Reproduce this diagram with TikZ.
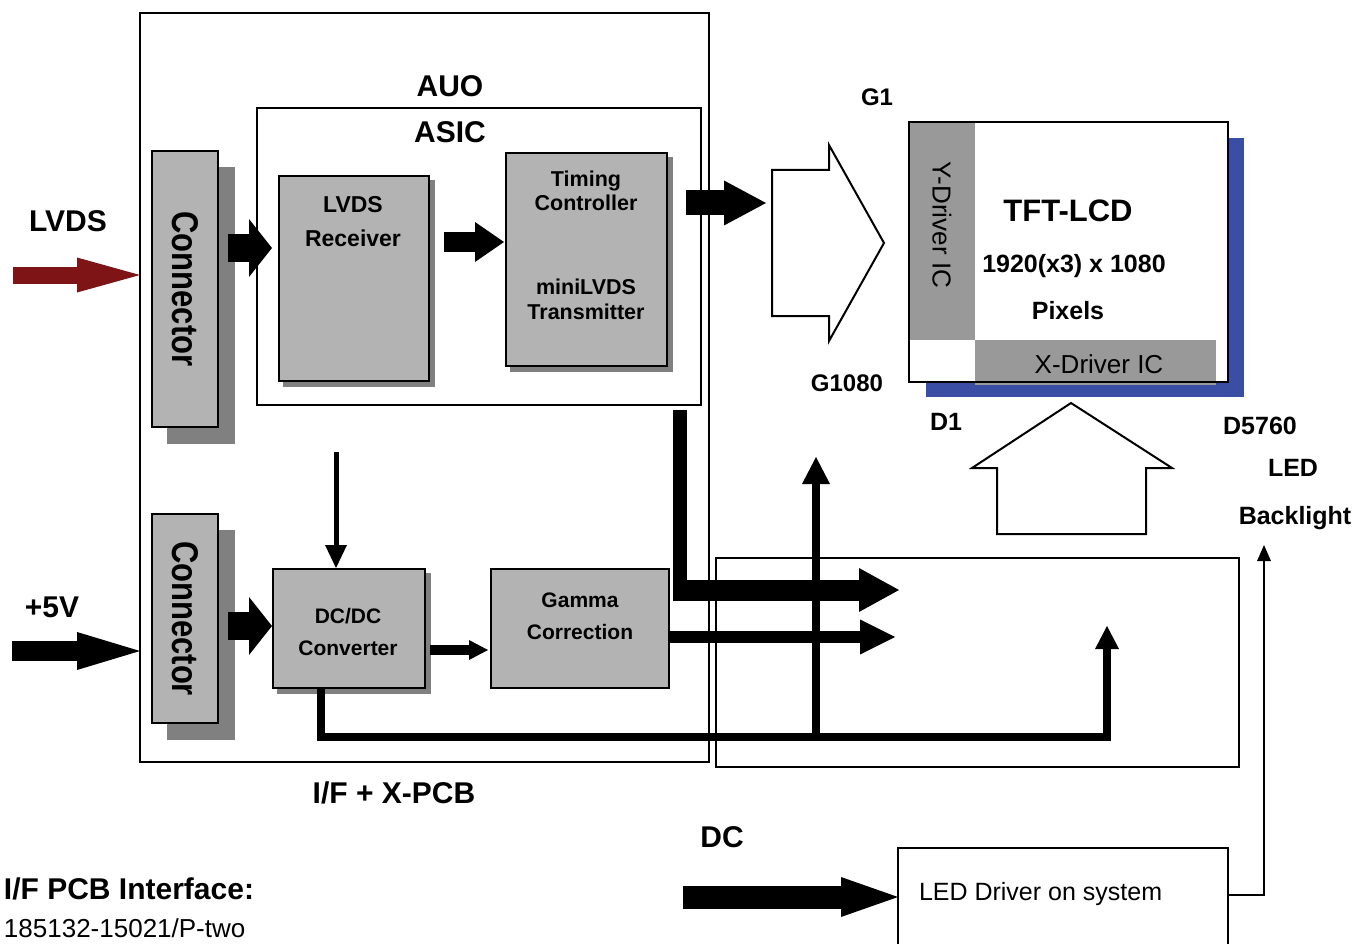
\documentclass[tikz,border=0pt]{standalone}
\usepackage{fontspec}
\setmainfont{Liberation Sans}
\usetikzlibrary{arrows.meta}
\definecolor{boxgray}{HTML}{B3B3B3}
\definecolor{shadowgray}{HTML}{808080}
\definecolor{drvgray}{HTML}{999999}
\definecolor{lcdblue}{HTML}{3A4FA3}
\definecolor{lvdsred}{HTML}{7F1416}
\begin{document}
\begin{tikzpicture}[x=1pt,y=-1pt,
 every node/.style={inner sep=0pt, outer sep=0pt},
 frame/.style={draw=black, line width=1.5pt},
 blk/.style={draw=black, line width=2.5pt, fill=boxgray},
 shadebox/.style={fill=shadowgray},
 fb/.style={font=\bfseries\fontsize{#1}{#1}\selectfont},
 fr/.style={font=\fontsize{#1}{#1}\selectfont},
 fat/.style n args={3}{line width=#1, -{Triangle[length=#2,width=#3,line width=0pt]}},
 hollow/.style={draw=black, line width=2pt, fill=white, line join=miter},
]
\useasboundingbox (0,0) rectangle (1357,944);
\clip (0,0) rectangle (1357,944);

% ---------- frames ----------
\node[frame, minimum width=569pt, minimum height=749pt] (pcb) at (424.5,387.5) {};
\node[frame, line width=2.5pt, minimum width=444pt, minimum height=297pt] (asic) at (479,256.5) {};
\node[frame, minimum width=523pt, minimum height=209pt] (lowbox) at (977.5,662.5) {};
\node[frame, fill=white, minimum width=330pt, minimum height=120pt] (leddrv) at (1063,908) {};

% ---------- shadows ----------
\node[shadebox, minimum width=68pt, minimum height=276pt] (conn1s) at (201,305.5) {};
\node[shadebox, minimum width=68pt, minimum height=210pt] (conn2s) at (201,634.5) {};
\node[shadebox, minimum width=152pt, minimum height=207pt] (lvdsrxs) at (359,283.5) {};
\node[shadebox, minimum width=163pt, minimum height=215pt] (timings) at (591.5,264.5) {};
\node[shadebox, minimum width=154pt, minimum height=121pt] (dcdcs) at (354,633.5) {};

% ---------- blocks ----------
\node[blk, minimum width=66pt, minimum height=276pt] (conn1) at (185,289) {};
\node[fb=31, rotate=-90] (conn1t) at (conn1) {\scalebox{1}[1.2]{Connector}};
\node[blk, minimum width=66pt, minimum height=209pt] (conn2) at (185,618.5) {};
\node[fb=31, rotate=-90] (conn2t) at (conn2) {\scalebox{1}[1.2]{Connector}};

\node[blk, minimum width=150pt, minimum height=205pt] (lvdsrx) at (354,278.5) {};
\node[fb=23, anchor=base] (lvdsrxa) at (353,213) {LVDS};
\node[fb=23, anchor=base] (lvdsrxb) at (353,246) {Receiver};

\node[blk, minimum width=161pt, minimum height=213pt] (timing) at (586.5,259.5) {};
\node[fb=21.5, anchor=base] (timinga) at (586,187) {Timing};
\node[fb=21.5, anchor=base] (timingb) at (586,211) {Controller};
\node[fb=21.5, anchor=base] (timingc) at (586,294) {miniLVDS};
\node[fb=21.5, anchor=base] (timingd) at (586,319) {Transmitter};

\node[blk, minimum width=152pt, minimum height=119pt] (dcdc) at (349,628.5) {};
\node[fb=21, anchor=base] (dcdca) at (348,623) {DC/DC};
\node[fb=21, anchor=base] (dcdcb) at (348,655) {Converter};

\node[blk, minimum width=178pt, minimum height=119pt] (gamma) at (580,628.5) {};
\node[fb=21, anchor=base] (gammaa) at (580,607) {Gamma};
\node[fb=21, anchor=base] (gammab) at (580,639) {Correction};

% ---------- TFT-LCD ----------
\node[fill=lcdblue, minimum width=318pt, minimum height=259pt] (lcdsh) at (1085,267.5) {};
\node[draw=black, line width=2.5pt, fill=white, minimum width=319pt, minimum height=260pt] (lcd) at (1068.5,252) {};
\node[fill=drvgray, minimum width=66pt, minimum height=218pt] (ydrv) at (942,231) {};
\node[fr=26, rotate=-90] (ydrvt) at (942,225) {Y-Driver IC};
\node[fill=drvgray, minimum width=241pt, minimum height=44pt] (xdrv) at (1095.5,362) {};
\node[fr=26, anchor=base] (xdrvt) at (1099,373) {X-Driver IC};
\draw[line width=2.5pt] (lcd.south west) rectangle (lcd.north east);
\fill[drvgray] ([yshift=1.5pt]xdrv.south west) rectangle ([yshift=-1pt]xdrv.south east);
\node[fb=31, anchor=base] (tft) at (1068,222) {TFT-LCD};
\node[fb=25, anchor=base] (res) at (1074,272) {1920(x3) x 1080};
\node[fb=25, anchor=base] (pix) at (1068,319) {Pixels};

% ---------- hollow arrows ----------
\draw[hollow] (772,170) -- (829,170) -- (829,145) -- (884,243) -- (829,341) -- (829,316) -- (772,316) -- cycle;
\coordinate (garrow) at (772,243);
\draw[hollow] (1071,403) -- (1172,468) -- (1146,468) -- (1146,534) -- (997,534) -- (997,468) -- (972,468) -- cycle;

% ---------- connectors ----------
\coordinate (lvdsin) at (13,275);
\draw[line width=17pt, lvdsred, -{Triangle[length=63pt,width=35pt,line width=0pt]}] (lvdsin) -- (lvdsin -| pcb.west);
\coordinate (pwrin) at (12,651);
\draw[fat={20pt}{63pt}{38pt}] (pwrin) -- (pwrin -| pcb.west);

\draw[fat={28pt}{23pt}{58pt}] ([xshift=10pt,yshift=41pt]conn1.east) -- ([xshift=-7pt,yshift=30.5pt]lvdsrx.west);
\draw[fat={28pt}{23pt}{58pt}] ([xshift=10pt,yshift=-7.5pt]conn2.east) -- ([xshift=-1pt,yshift=2.5pt]dcdc.west);
\draw[fat={20pt}{29pt}{40pt}] ([xshift=15pt,yshift=36.5pt]lvdsrx.east) -- ([xshift=-2pt,yshift=17.5pt]timing.west);
\draw[fat={25pt}{42pt}{45pt}] ([xshift=19pt,yshift=56.5pt]timing.east) -- ([xshift=-6pt,yshift=40pt]garrow);

\draw[line width=14pt] ([xshift=-21pt,yshift=-5pt]asic.south east) -- ([xshift=-36pt,yshift=-42pt]lowbox.north west);
\draw[fat={21pt}{40pt}{44pt}] ([xshift=-43pt,yshift=-32pt]lowbox.north west) -- ([xshift=183pt,yshift=-32pt]lowbox.north west);
\draw[fat={12pt}{35pt}{35pt}] ([xshift=1pt,yshift=-8.5pt]gamma.east) -- ([xshift=179pt,yshift=-79pt]lowbox.north west);

\draw[line width=5pt, -{Triangle[length=23pt,width=22pt,line width=0pt]}] ([xshift=-13pt,yshift=117pt]dcdc.north) -- ([xshift=-13pt,yshift=1pt]dcdc.north);
\draw[fat={10pt}{19pt}{20pt}] ([xshift=5pt,yshift=-21.5pt]dcdc.east) -- ([xshift=-3pt,yshift=-21.5pt]gamma.west);

\coordinate (tipB) at ([xshift=100pt,yshift=101pt]lowbox.north west);
\draw[line width=8pt, line join=miter, -{Triangle[length=23pt,width=24pt,line width=0pt]}] ([xshift=-28pt]dcdc.south) -- ++(0,49) coordinate (dcbus) -| ([xshift=391pt,yshift=-68pt]lowbox.north west);
\draw[line width=8pt, -{Triangle[length=27pt,width=28pt,line width=0pt]}] (dcbus -| tipB) -- (tipB);

\coordinate (dcin) at (683,897);
\draw[fat={23pt}{57pt}{40pt}] (dcin) -- (dcin -| leddrv.west);
\coordinate (blin) at (1264,545);
\draw[line width=1.5pt, -{Triangle[length=16pt,width=14pt,line width=0pt]}] ([yshift=13pt]leddrv.east) -| (blin);

% ---------- labels ----------
\node[fb=30, anchor=base] (auo) at (450,97) {AUO};
\node[fb=30, anchor=base] (asict) at (450,143) {ASIC};
\node[fb=30, anchor=base] (lvdsl) at (68,232) {LVDS};
\node[fb=30, anchor=base] (pwrl) at (52,617) {+5V};
\node[fb=24, anchor=base] (g1) at (877,106) {G1};
\node[fb=24, anchor=base] (g1080) at (847,391) {G1080};
\node[fb=25, anchor=base] (d1) at (946,430) {D1};
\node[fb=25, anchor=base] (d5760) at (1260,434) {D5760};
\node[fb=25, anchor=base] (ledl) at (1293,476) {LED};
\node[fb=25, anchor=base] (bll) at (1295,524) {Backlight};
\node[fb=30, anchor=base] (pcbl) at (394,803) {I/F + X-PCB};
\node[fb=30, anchor=base] (dcl) at (722,847) {DC};
\node[fb=30, anchor=base west] (ifl) at (4,899) {I/F PCB Interface:};
\node[fr=26, anchor=base west] (pnl) at (4,937) {185132-15021/P-two};
\node[fr=25, anchor=base west] (leddrvt) at (919,900) {LED Driver on system};
\end{tikzpicture}
\end{document}
